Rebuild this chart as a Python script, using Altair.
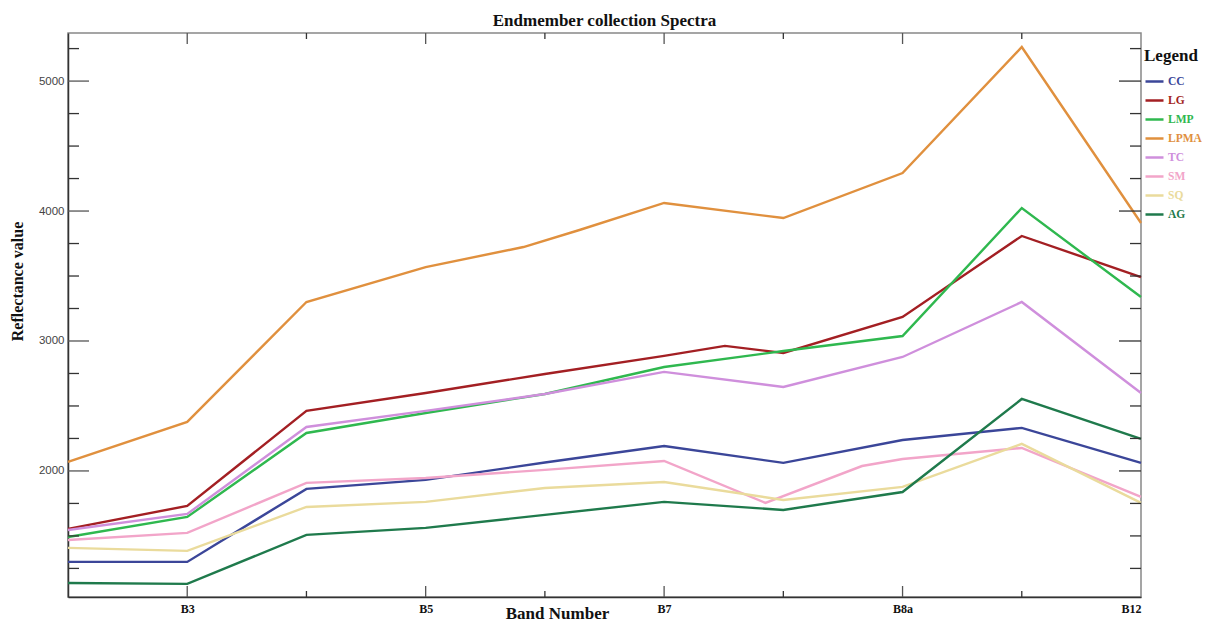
import altair as alt
import pandas as pd

# ---- data ----
bands = ["B2", "B3", "B4", "B5", "B6", "B7", "B8", "B8a", "B11", "B12"]
band_pos = [0, 1, 2, 3, 4, 5, 6, 7, 8, 9]
long_tick_pos = [1, 3, 5, 7]
short_tick_pos = [2, 4, 6, 8]
label_pos = [1, 3, 5, 7, 9]

series = ["CC", "LG", "LMP", "LPMA", "TC", "SM", "SQ", "AG"]
colors = ["#3b4699", "#a31f23", "#2fb84f", "#e0903e", "#cf8fdc", "#f2a5c9", "#eadb9c", "#1f7a4c"]

cc = [1300, 1300, 1862, 1931, 2065, 2192, 2062, 2238, 2331, 2062]
lg = [1554, 1731, 2462, 2600, 2746, 2885, 2908, 3185, 3808, 3492]
lmp = [1492, 1646, 2292, 2446, 2592, 2800, 2923, 3038, 4023, 3338]
lpma = [2069, 2377, 3300, 3569, None, 4062, 3946, 4292, 5262, 3908]
tc = [1546, 1669, 2338, 2462, 2592, 2762, 2646, 2877, 3300, 2600]
sm = [1469, 1523, 1908, 1946, 2008, 2077, None, 2092, 2177, 1800]
sq = [1408, 1385, 1723, 1762, 1869, 1915, 1777, 1877, 2208, 1754]
ag = [1138, 1131, 1508, 1562, 1662, 1762, 1700, 1838, 2554, 2246]

# extra vertices between bands (series, position, value)
kink_series = ["LG", "LPMA", "LPMA", "SM", "SM"]
kink_pos = [5.51, 3.82, 4.29, 5.85, 6.66]
kink_val = [2962, 3723, 3854, 1754, 2038]

y_major = [2000, 3000, 4000, 5000]
y_minor = [1250, 1500, 1750, 2250, 2500, 2750, 3250, 3500, 3750,
           4250, 4500, 4750, 5250]

# ---- build table ----
rows = []
for name, vals in zip(series, [cc, lg, lmp, lpma, tc, sm, sq, ag]):
    for p, v in zip(band_pos, vals):
        if v is not None:
            rows.append({"series": name, "pos": p, "value": v})
for name, p, v in zip(kink_series, kink_pos, kink_val):
    rows.append({"series": name, "pos": p, "value": v})
df = pd.DataFrame(rows)

W, H = 1073, 564
SERIF = "Liberation Serif"
SANS = "Liberation Sans"

xscale = alt.Scale(domain=[0, 9], nice=False, zero=False)
yscale = alt.Scale(domain=[1030, 5370], nice=False, zero=False)

label_expr = "[" + ",".join("'%s'" % b for b in bands) + "][datum.value]"

x_axis = alt.Axis(values=label_pos, labelExpr=label_expr, ticks=False,
                  grid=False, labelFont=SERIF, labelFontWeight="bold",
                  labelFontSize=12, labelColor="#111", labelPadding=6,
                  domainColor="#333", domainWidth=1.5,
                  title="Band Number", titleFont=SERIF, titleFontSize=17,
                  titleFontWeight="bold", titleColor="#111",
                  titleX=489, titleY=21, titleBaseline="alphabetic",
                  titleAlign="center", titleAnchor="start")
y_axis = alt.Axis(values=y_major, format="d", ticks=False, grid=False,
                  labelFont=SANS, labelFontSize=11.5, labelColor="#444",
                  labelPadding=4, domainColor="#333", domainWidth=1.5,
                  title="Reflectance value", titleFont=SERIF,
                  titleFontSize=16, titleFontWeight="bold",
                  titleColor="#111", titleX=-51, titleY=248,
                  titleAngle=270, titleAlign="center",
                  titleBaseline="middle", titleAnchor="start")

lines = alt.Chart(df).mark_line(strokeWidth=2.4).encode(
    x=alt.X("pos:Q", scale=xscale, axis=x_axis),
    y=alt.Y("value:Q", scale=yscale, axis=y_axis),
    color=alt.Color("series:N", scale=alt.Scale(domain=series, range=colors),
                    legend=alt.Legend(
                        orient="none", legendX=1076, legendY=15,
                        title="Legend", titleFont=SERIF, titleFontSize=17,
                        titleFontWeight="bold", titleColor="#111",
                        titlePadding=9,
                        symbolType="stroke", symbolSize=324,
                        symbolStrokeWidth=2.5,
                        labelFont=SERIF, labelFontSize=11.5,
                        labelFontWeight="bold", labelOffset=3,
                        labelLimit=60,
                        labelColor=alt.ExprRef("scale('color', datum.value)"),
                        clipHeight=15, rowPadding=4)),
)

ymaj_df = pd.DataFrame({"value": y_major})
ymin_df = pd.DataFrame({"value": y_minor})
xlong_df = pd.DataFrame({"pos": long_tick_pos})
xshort_df = pd.DataFrame({"pos": short_tick_pos})

yenc = alt.Y("value:Q", scale=yscale, axis=y_axis)
xenc = alt.X("pos:Q", scale=xscale, axis=x_axis)

tick_layers = [
    alt.Chart(ymaj_df).mark_rule(color="#555", strokeWidth=1.3).encode(
        y=yenc, x=alt.value(0), x2=alt.value(21)),
    alt.Chart(ymin_df).mark_rule(color="#333", strokeWidth=1.3).encode(
        y=yenc, x=alt.value(0), x2=alt.value(11)),
    alt.Chart(ymaj_df).mark_rule(color="#333", strokeWidth=1.3).encode(
        y=yenc, x=alt.value(W), x2=alt.value(W - 22)),
    alt.Chart(ymin_df).mark_rule(color="#333", strokeWidth=1.3).encode(
        y=yenc, x=alt.value(W), x2=alt.value(W - 11)),
    alt.Chart(xlong_df).mark_rule(color="#555", strokeWidth=1.3).encode(
        x=xenc, y=alt.value(H), y2=alt.value(H - 11)),
    alt.Chart(xshort_df).mark_rule(color="#333", strokeWidth=1.3).encode(
        x=xenc, y=alt.value(H), y2=alt.value(H - 6)),
    alt.Chart(xlong_df).mark_rule(color="#555", strokeWidth=1.3).encode(
        x=xenc, y=alt.value(0), y2=alt.value(11)),
    alt.Chart(xshort_df).mark_rule(color="#333", strokeWidth=1.3).encode(
        x=xenc, y=alt.value(0), y2=alt.value(6)),
]

chart = alt.layer(lines, *tick_layers).properties(
    width=W, height=H,
    background="white",
    title=alt.TitleParams("Endmember collection Spectra", font=SERIF,
                          fontSize=17, fontWeight="bold", color="#111",
                          offset=2),
    padding={"left": 60, "top": 25, "right": 61, "bottom": 24},
    autosize=alt.AutoSizeParams(type="none"),
).configure_view(stroke="#888", strokeWidth=1.5)

chart.save("out.html", embed_options={"renderer": "svg", "actions": False})
